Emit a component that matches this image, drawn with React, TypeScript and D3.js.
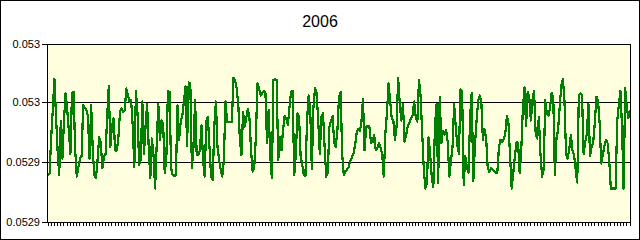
import React from 'react';
import * as d3 from 'd3';

const title = '2006';
const yTickValues = [0.05285, 0.0529, 0.05295, 0.053];
const yTickLabels = ['0.0529', '0.0529', '0.053', '0.053'];
const categories = d3.timeDay.range(new Date(2006, 0, 1), new Date(2007, 0, 1));
const values = [
  0.052889, 0.052891, 0.052921, 0.052944, 0.05297, 0.052939, 0.05291, 0.052889, 0.052935, 0.052903,
  0.052935, 0.052958, 0.052945, 0.052927, 0.052907, 0.052958, 0.052959, 0.05291, 0.052888, 0.052896,
  0.052903, 0.052905, 0.052948, 0.052946, 0.052944, 0.052938, 0.052903, 0.052948, 0.05291, 0.052889,
  0.052887, 0.052902, 0.052921, 0.052917, 0.052895, 0.052905, 0.052907, 0.052938, 0.052964, 0.052913,
  0.05293, 0.052937, 0.05291, 0.05291, 0.05292, 0.052942, 0.052945, 0.052942, 0.052944, 0.052962,
  0.052956, 0.052951, 0.052952, 0.05293, 0.052896, 0.05296, 0.052941, 0.052898, 0.052902, 0.052951,
  0.052907, 0.05293, 0.052949, 0.052912, 0.052887, 0.05292, 0.052906, 0.052878, 0.052916, 0.052949,
  0.052919, 0.052935, 0.052933, 0.052891, 0.052902, 0.05296, 0.052959, 0.052895, 0.052889, 0.052889,
  0.052889, 0.052948, 0.052919, 0.052934, 0.052939, 0.052951, 0.052964, 0.052914, 0.052967, 0.052966,
  0.052895, 0.052913, 0.052952, 0.052906, 0.052906, 0.05291, 0.052931, 0.052902, 0.052888, 0.052935,
  0.052938, 0.052913, 0.052888, 0.052885, 0.05293, 0.052951, 0.052913, 0.052902, 0.052894, 0.052888,
  0.052902, 0.052951, 0.052934, 0.052934, 0.052934, 0.052934, 0.052971, 0.052969, 0.052962, 0.052949,
  0.052919, 0.052906, 0.052942, 0.05293, 0.052937, 0.052945, 0.052937, 0.05291, 0.052892, 0.052896,
  0.052921, 0.052966, 0.052962, 0.052956, 0.052958, 0.05296, 0.052958, 0.052916, 0.052944, 0.052905,
  0.052887, 0.052969, 0.05297, 0.052969, 0.052902, 0.052921, 0.05291, 0.052927, 0.052939, 0.052937,
  0.052931, 0.052946, 0.052959, 0.05296, 0.052889, 0.052907, 0.052941, 0.052938, 0.052905, 0.052898,
  0.052889, 0.052889, 0.052935, 0.052956, 0.052944, 0.052894, 0.052946, 0.052962, 0.052958, 0.052935,
  0.052907, 0.052938, 0.052941, 0.052913, 0.052888, 0.052891, 0.05293, 0.052935, 0.052939, 0.052916,
  0.052913, 0.052927, 0.052955, 0.052959, 0.052907, 0.052889, 0.052892, 0.052894, 0.052896, 0.052901,
  0.052904, 0.052907, 0.052914, 0.052924, 0.052928, 0.052926, 0.052933, 0.052953, 0.05291, 0.05293,
  0.05293, 0.05293, 0.052916, 0.052917, 0.052923, 0.05291, 0.052912, 0.052916, 0.052912, 0.052907,
  0.052888, 0.052924, 0.052942, 0.052966, 0.052951, 0.052937, 0.052935, 0.052919, 0.05293, 0.052971,
  0.052949, 0.052935, 0.052949, 0.052917, 0.052923, 0.05293, 0.052933, 0.052937, 0.052939, 0.052951,
  0.052938, 0.052934, 0.052969, 0.052956, 0.052926, 0.052895, 0.052878, 0.052883, 0.052921, 0.052907,
  0.052888, 0.052879, 0.05293, 0.052949, 0.052883, 0.052955, 0.052916, 0.052926, 0.052923, 0.052927,
  0.052917, 0.052888, 0.052901, 0.052913, 0.052949, 0.05293, 0.052914, 0.052907, 0.052961, 0.05296,
  0.052881, 0.052905, 0.052896, 0.052891, 0.052938, 0.052958, 0.052884, 0.052914, 0.052934, 0.052951,
  0.052956, 0.052951, 0.052919, 0.052928, 0.052921, 0.052896, 0.052892, 0.052895, 0.052894, 0.052893,
  0.052891, 0.052891, 0.052912, 0.052919, 0.052917, 0.052919, 0.052924, 0.052939, 0.052933, 0.052905,
  0.052878, 0.052891, 0.052905, 0.052917, 0.052916, 0.052891, 0.05291, 0.052945, 0.052963, 0.05293,
  0.052959, 0.052955, 0.052935, 0.052952, 0.05296, 0.052924, 0.05292, 0.052938, 0.052907, 0.052888,
  0.052894, 0.052952, 0.052941, 0.052939, 0.052946, 0.052958, 0.052955, 0.052889, 0.05292, 0.052927,
  0.052946, 0.052964, 0.05297, 0.052952, 0.052907, 0.052903, 0.052911, 0.052923, 0.05291, 0.052906,
  0.052894, 0.052883, 0.052956, 0.052958, 0.052956, 0.052907, 0.052917, 0.052924, 0.052949, 0.052905,
  0.052913, 0.052917, 0.052933, 0.052955, 0.052952, 0.052933, 0.052899, 0.052906, 0.052914, 0.052919,
  0.052916, 0.052902, 0.052878, 0.052878, 0.052878, 0.052878, 0.052935, 0.052948, 0.05296, 0.05293,
  0.052878, 0.052962, 0.052946, 0.052937, 0.052944,
];

export default function App() {
  const W = 640;
  const H = 240;
  const plotLeft = 48;
  const plotRight = 630;
  const plotTop = 44;
  const plotBottom = 222;

  const n = Math.min(values.length, categories.length);
  const x = d3.scaleLinear().domain([0, n - 1]).range([plotLeft, plotRight]);
  const y = d3.scaleLinear().domain([yTickValues[0], yTickValues[yTickValues.length - 1]]).range([222, 43]);

  const line = d3
    .line<number>()
    .x((_, i) => x(i))
    .y((d) => y(d));

  const snap = (v: number) => Math.floor(v) + 0.5;
  const tickIdx = d3.range(0, n, 2);
  const font = "'Liberation Sans', Arial, sans-serif";

  return (
    <div style={{ position: 'absolute', left: 0, top: 0, width: W, height: H }}>
      <svg width={W} height={H} style={{ display: 'block' }}>
        <rect x={0} y={0} width={W} height={H} fill="#ffffff" />
        <rect x={0.5} y={0.5} width={W - 1} height={H - 1} fill="none" stroke="#000" strokeWidth={1} />
        <text x={320} y={27} textAnchor="middle" fontFamily={font} fontSize={16} fill="#000">
          {title}
        </text>
        <rect
          x={plotLeft - 0.5}
          y={plotTop + 0.5}
          width={plotRight - plotLeft + 1}
          height={plotBottom - plotTop}
          fill="#ffffe0"
        />
        {yTickValues.slice(1, -1).map((v) => (
          <line key={'g' + v} x1={plotLeft - 0.5} x2={plotRight + 0.5} y1={snap(y(v))} y2={snap(y(v))} stroke="#000" strokeWidth={1} />
        ))}
        <path
          d={line(values.slice(0, n)) || ''}
          fill="none"
          stroke="#008000"
          strokeWidth={2.2}
          strokeLinejoin="round"
          shapeRendering="crispEdges"
        />
        <rect
          x={plotLeft - 0.5}
          y={plotTop + 0.5}
          width={plotRight - plotLeft + 1}
          height={plotBottom - plotTop}
          fill="none"
          stroke="#000"
          strokeWidth={1}
        />
        {yTickValues.map((v, i) => {
          const yy = i === yTickValues.length - 1 ? plotTop + 0.5 : snap(y(v));
          return (
            <g key={'yt' + i}>
              <line x1={plotLeft - 6} x2={plotLeft} y1={yy} y2={yy} stroke="#000" strokeWidth={1} />
              <text x={40} y={yy} dy="0.35em" textAnchor="end" fontFamily={font} fontSize={11} fill="#000">
                {yTickLabels[i]}
              </text>
            </g>
          );
        })}
        {tickIdx.map((i) => (
          <line key={'xt' + i} x1={snap(x(i))} x2={snap(x(i))} y1={plotBottom + 0.5} y2={plotBottom + 4} stroke="#000" strokeWidth={1} />
        ))}
      </svg>
    </div>
  );
}
